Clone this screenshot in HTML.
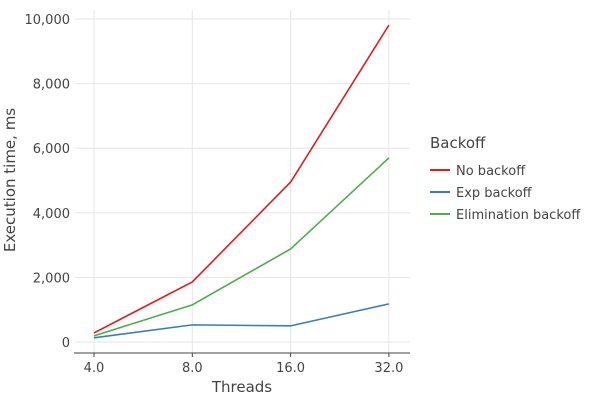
<!DOCTYPE html><html><head><meta charset="utf-8"><style>body{margin:0;background:#fff}svg text{font-family:"DejaVu Sans","Liberation Sans",sans-serif;fill:#444}</style></head><body>
<svg id="c" width="600" height="400"></svg>
<script>
const threads=[4,8,16,32];
const xLabels=["4.0","8.0","16.0","32.0"];
const yTicks=[0,2000,4000,6000,8000,10000];
const noBackoff=[280,1860,4950,9810];
const expBackoff=[130,530,500,1180];
const elimBackoff=[190,1150,2880,5700];
const seriesNames=["No backoff","Exp backoff","Elimination backoff"];
const colors=["#e41a1c","#377eb8","#4daf4a"];
const svg=document.getElementById('c');
const NS="http://www.w3.org/2000/svg";
function x(t){return 94+(Math.log2(t)-2)*98.3;}
function y(v){return 342-v*0.0323;}
function mk(tag,a,txt){const e=document.createElementNS(NS,tag);for(const k in a)e.setAttribute(k,a[k]);if(txt!==undefined)e.textContent=txt;svg.appendChild(e);return e;}
yTicks.forEach(v=>{
 const g=mk('line',{x1:75,x2:410,y1:y(v),y2:y(v),stroke:'#e6e6e6'});
 
 
 const t=mk('text',{x:70,y:y(v)+5,'text-anchor':'end','font-size':13},v.toLocaleString('en-US'));
 
 
});
threads.forEach((th,i)=>{
 const g=mk('line',{x1:x(th),x2:x(th),y1:10,y2:353,stroke:'#e6e6e6'});
 
 
 const tk=mk('line',{x1:x(th),x2:x(th),y1:353,y2:357,stroke:'#444'});
 
 
 const t=mk('text',{x:x(th),y:372,'text-anchor':'middle','font-size':13},xLabels[i]);
 
 
});
const ax=mk('line',{x1:74,x2:410,y1:353,y2:353,stroke:'#444'});


[noBackoff,expBackoff,elimBackoff].forEach((s,k)=>{
 const p=mk('polyline',{points:s.map((v,i)=>x(threads[i])+','+y(v)).join(' '),fill:'none',stroke:colors[k],'stroke-width':1.6});
 
 
 const l=mk('line',{x1:430,x2:450,y1:170+k*22,y2:170+k*22,stroke:colors[k],'stroke-width':2});
 
 
 const t=mk('text',{x:456,y:175+k*22,'font-size':13},seriesNames[k]);
 
 
});
const lt=mk('text',{x:430,y:148,'font-size':15},'Backoff');


const xt=mk('text',{x:242,y:392,'text-anchor':'middle','font-size':15},'Threads');


const yt=mk('text',{x:0,y:0,'text-anchor':'middle','font-size':15,transform:'translate(15,180) rotate(-90)'},'Execution time, ms');


</script></body></html>
